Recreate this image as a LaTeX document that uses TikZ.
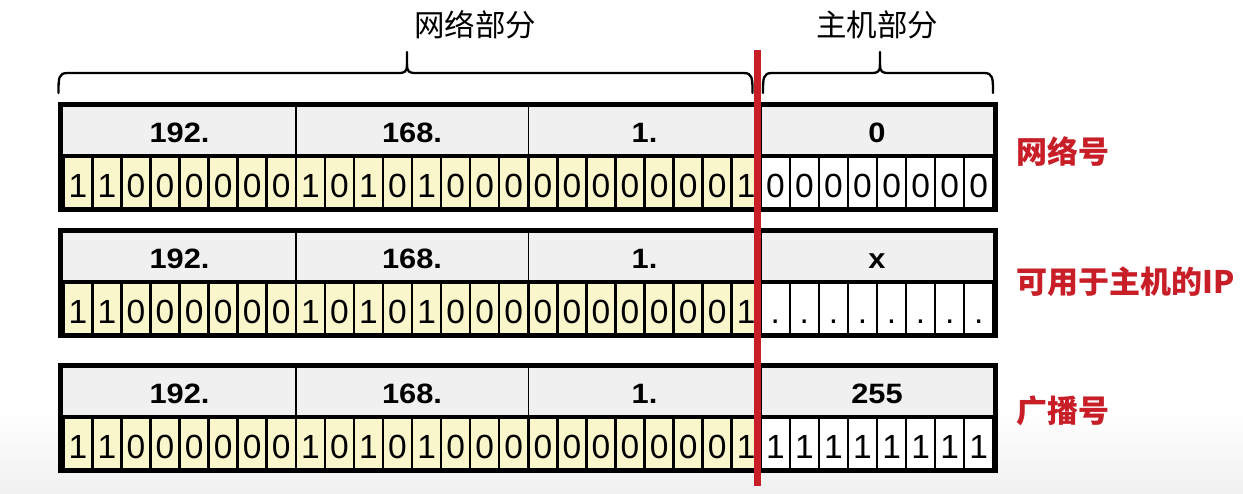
\documentclass[tikz,border=0pt]{standalone}
\usepackage{fontspec}
\setmainfont{Liberation Sans}
\newfontfamily\cjk{Noto Sans CJK SC}
\newfontfamily\hdrfont[FakeStretch=1.1]{Liberation Sans}
\definecolor{netred}{RGB}{200,30,40}
\definecolor{cellyellow}{RGB}{250,246,204}
\definecolor{hdrgray}{RGB}{240,240,240}
\begin{document}
\begin{tikzpicture}[x=1pt,y=-1pt,
  cellbox/.style={draw=black,line width=2.5pt,minimum width=29.06pt,minimum height=51.2pt,inner sep=0pt,outer sep=0pt},
  netcell/.style={cellbox,fill=cellyellow},
  hostcell/.style={cellbox,fill=white},
  bittext/.style={anchor=base,inner sep=0pt,font=\fontsize{33.5}{36}\selectfont},
  hdrtext/.style={anchor=base,inner sep=0pt,font=\hdrfont\bfseries\fontsize{28}{30}\selectfont},
  bracepath/.style={draw=black,line width=2.3pt,line cap=round,line join=round},
  titletext/.style={inner sep=0pt,font=\cjk\fontsize{30.5}{34}\selectfont},
  redlabel/.style={anchor=west,inner sep=0pt,text=netred,font=\cjk\bfseries\fontsize{31}{34}\selectfont},
  redline/.style={draw=netred,line width=6.5pt}
]
\useasboundingbox (0,0) rectangle (1243,493);
\fill[white] (0,0) rectangle (1243,493);
\shade[top color=white,bottom color=hdrgray] (0,410) rectangle (1243,493);
\def\w{29.0625}
\foreach \t/\r/\hh/\hb in {101.7/a/0/0, 228/b/x/., 362.7/c/255/1} {
  \fill[hdrgray] (63.3,\t+5) rectangle (993.3,\t+53.8);
  \foreach \k in {1,2,3}
    \draw[line width=1.5pt] ({63.3+8*\k*\w},\t+5) -- ({63.3+8*\k*\w},\t+53.8);
  \foreach [count=\i from 0] \b in {1,1,0,0,0,0,0,0,1,0,1,0,1,0,0,0,0,0,0,0,0,0,0,1} {
    \node[netcell] (\r cell\i) at ({63.3+(\i+0.5)*\w},\t+80.65) {};
    \node[bittext] (\r bit\i) at ({63.3+(\i+0.5)*\w},\t+95.6) {\b};
  }
  \foreach \i in {24,...,31} {
    \node[hostcell] (\r cell\i) at ({63.3+(\i+0.5)*\w},\t+80.65) {};
    \node[bittext] (\r bit\i) at ({63.3+(\i+0.5)*\w},\t+95.6) {\hb};
  }
  \node[hdrtext] (\r h1) at ({63.3+4*\w},\t+40.8) {192.};
  \node[hdrtext] (\r h2) at ({63.3+12*\w},\t+40.8) {168.};
  \node[hdrtext] (\r h3) at ({63.3+20*\w},\t+40.8) {1.};
  \node[hdrtext] (\r h4) at ({63.3+28*\w},\t+40.8) {\hh};
  \draw[line width=3pt] (60.8,\t+53.8) -- (995.8,\t+53.8);
  \draw[line width=5pt] (60.8,\t+2.5) rectangle (995.8,\t+107.5);
}
% braces
\draw[bracepath] (58.5,93) .. controls (58.5,78) and (58.5,73) .. (67.5,73) -- (398,73)
  .. controls (405,73) and (407,72) .. (407,64) -- (407,52);
\draw[bracepath] (407,64) .. controls (407,72) and (409,73) .. (416,73) -- (743.5,73)
  .. controls (752.5,73) and (752.5,78) .. (752.5,93);
\draw[bracepath] (763,93) .. controls (763,78) and (763,73) .. (772,73) -- (871,73)
  .. controls (878,73) and (880,72) .. (880,64) -- (880,52);
\draw[bracepath] (880,64) .. controls (880,72) and (882,73) .. (889,73) -- (984,73)
  .. controls (993,73) and (993,78) .. (993,93);
\node[titletext] (nettitle) at (475,25) {网络部分};
\node[titletext] (hosttitle) at (877,25) {主机部分};
% red divider
\coordinate (divtop) at (757.5,50);
\coordinate (divbot) at (757.5,486);
\draw[redline] (divtop) -- (divbot);
% labels
\node[redlabel] (lblnet) at (1016,151) {网络号};
\node[redlabel] (lblhost) at (1016,282) {可用于主机的IP};
\node[redlabel] (lblbc) at (1016,411) {广播号};
\end{tikzpicture}
\end{document}
